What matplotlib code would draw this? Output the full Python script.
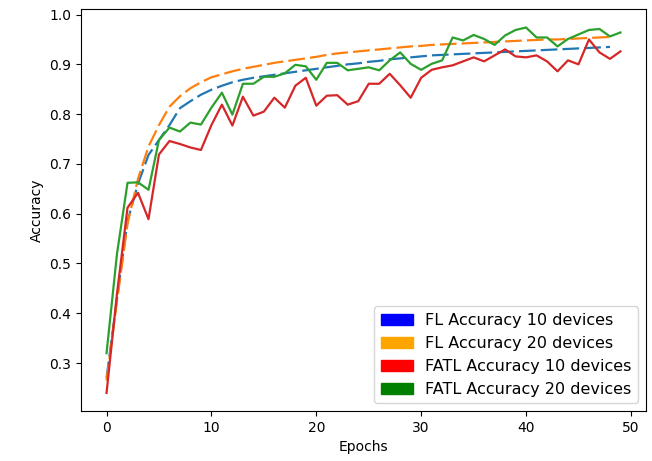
import matplotlib
matplotlib.use("Agg")
import matplotlib.pyplot as plt
import matplotlib.patches as mpatches

# accuracy per epoch
fl_10 = [0.270, 0.430, 0.585, 0.660, 0.718, 0.748, 0.778, 0.812, 0.826, 0.839,
         0.849, 0.857, 0.864, 0.869, 0.873, 0.876, 0.879, 0.882, 0.885, 0.888,
         0.891, 0.894, 0.897, 0.900, 0.902, 0.905, 0.907, 0.910, 0.912, 0.914,
         0.916, 0.918, 0.919, 0.920, 0.921, 0.922, 0.923, 0.924, 0.925, 0.926,
         0.927, 0.928, 0.929, 0.930, 0.931, 0.932, 0.933, 0.934, 0.935]
fl_20 = [0.265, 0.425, 0.580, 0.670, 0.735, 0.778, 0.815, 0.836, 0.852, 0.864,
         0.874, 0.880, 0.886, 0.891, 0.895, 0.899, 0.903, 0.906, 0.909, 0.912,
         0.915, 0.919, 0.922, 0.924, 0.926, 0.928, 0.930, 0.932, 0.934, 0.936,
         0.937, 0.939, 0.940, 0.941, 0.942, 0.943, 0.944, 0.945, 0.946, 0.947,
         0.948, 0.949, 0.950, 0.950, 0.951, 0.952, 0.953, 0.954, 0.955]
fatl_10 = [0.240, 0.440, 0.612, 0.642, 0.589, 0.719, 0.746, 0.740, 0.733, 0.728,
           0.778, 0.819, 0.777, 0.835, 0.797, 0.805, 0.833, 0.813, 0.857, 0.873,
           0.817, 0.837, 0.838, 0.819, 0.826, 0.861, 0.861, 0.881, 0.858, 0.833,
           0.873, 0.889, 0.894, 0.898, 0.906, 0.914, 0.906, 0.918, 0.930, 0.916,
           0.914, 0.918, 0.906, 0.886, 0.908, 0.900, 0.950, 0.924, 0.911, 0.926]
fatl_20 = [0.320, 0.520, 0.662, 0.663, 0.648, 0.748, 0.773, 0.765, 0.783, 0.779,
           0.813, 0.843, 0.799, 0.861, 0.861, 0.875, 0.875, 0.882, 0.899, 0.896,
           0.869, 0.903, 0.903, 0.888, 0.891, 0.894, 0.888, 0.908, 0.924, 0.901,
           0.889, 0.901, 0.908, 0.954, 0.948, 0.959, 0.951, 0.939, 0.958, 0.969,
           0.974, 0.954, 0.954, 0.936, 0.951, 0.960, 0.969, 0.971, 0.956, 0.964]

labels = ["FL Accuracy 10 devices", "FL Accuracy 20 devices",
          "FATL Accuracy 10 devices", "FATL Accuracy 20 devices"]
legend_colors = ["blue", "orange", "red", "green"]

fig, ax = plt.subplots(figsize=(6.52, 4.61), dpi=100)
fig.subplots_adjust(left=0.124, right=0.991, top=0.980, bottom=0.108)

# dashed curves for plain FL, solid for FATL
ax.plot(range(len(fl_10)), fl_10, color="tab:blue", lw=1.6, dashes=(7.5, 2.3))
ax.plot(range(len(fl_20)), fl_20, color="tab:orange", lw=1.6, dashes=(7.5, 2.3))
ax.plot(range(len(fatl_10)), fatl_10, color="tab:red", lw=1.6)
ax.plot(range(len(fatl_20)), fatl_20, color="tab:green", lw=1.6)

ax.set_xlabel("Epochs")
ax.set_ylabel("Accuracy")

handles = [mpatches.Patch(color=c, label=l) for c, l in zip(legend_colors, labels)]
ax.legend(handles=handles, loc="lower right", fontsize=11.5)

fig.savefig("out.png", dpi=100)
